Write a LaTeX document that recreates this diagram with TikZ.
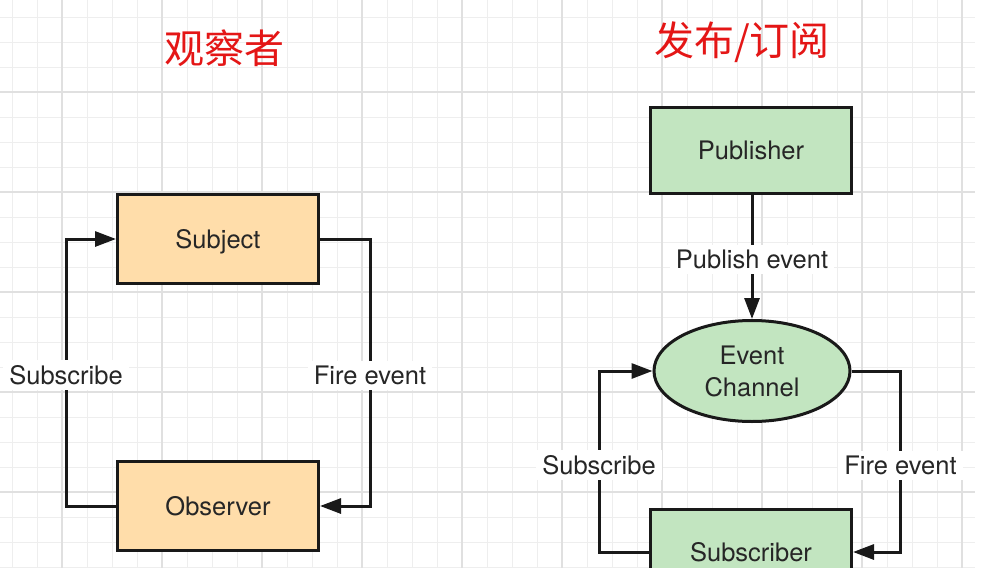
\documentclass[tikz,border=0pt]{standalone}
\usepackage{fontspec}
\setmainfont{TeX Gyre Heros}
\newfontfamily\cjk{Noto Sans CJK SC}
\usetikzlibrary{arrows.meta,shapes.geometric}
\definecolor{obsfill}{RGB}{255,221,170}
\definecolor{pubfill}{RGB}{194,229,192}
\definecolor{titlered}{RGB}{228,22,22}
\definecolor{gridminor}{RGB}{238,238,238}
\definecolor{gridmajor}{RGB}{224,224,224}
\tikzset{
  box/.style={draw=black!90, line width=3pt, rectangle, minimum width=201pt, minimum height=89pt,
    font=\fontsize{25.5}{30}\selectfont, text=black!85, inner sep=0pt, text height=18pt, text depth=0pt},
  obsbox/.style={box, fill=obsfill},
  pubbox/.style={box, fill=pubfill, minimum height=86pt},
  chan/.style={draw=black!90, line width=3pt, ellipse, fill=pubfill, minimum width=196pt, minimum height=101pt,
    font=\fontsize{25.5}{32}\selectfont, text=black!85, inner sep=0pt, align=center},
  conn/.style={draw=black!90, line width=3pt},
  arr/.style={conn, -{Triangle[length=21pt,width=15pt]}},
  lbl/.style={fill=white, font=\fontsize{25.5}{30}\selectfont, text=black!85, inner xsep=6pt, inner ysep=5pt},
  ttl/.style={font=\cjk\fontsize{40}{46}\selectfont, text=titlered, inner sep=0pt}
}
\begin{document}
\begin{tikzpicture}[x=1pt,y=-1pt]
\useasboundingbox (0,0) rectangle (986,568);
\fill[white] (0,0) rectangle (986,568);
% grid
\foreach \x in {12,37,...,975} \draw[gridminor,line width=1pt] (\x,0) -- (\x,568);
\foreach \y in {17,42,...,568} \draw[gridminor,line width=1pt] (0,\y) -- (975,\y);
\foreach \x in {62,162,...,975} \draw[gridmajor,line width=1.3pt] (\x,0) -- (\x,568);
\foreach \y in {92,192,...,568} \draw[gridmajor,line width=1.3pt] (0,\y) -- (975,\y);
% titles
\node[ttl] (t1) at (224,48) {观察者};
\node[ttl] (t2) at (742,42) {发布/订阅};
% observer pattern
\node[obsbox] (subject) at (218,239) {Subject};
\node[obsbox] (observer) at (218,506) {Observer};
\draw[arr] (observer.west) -- ++(-50,0) |- node[pos=0.245,lbl]{Subscribe} (subject.west);
\draw[arr] (subject.east) -- ++(50,0) |- node[pos=0.255,lbl]{Fire event} (observer.east);
% pub/sub
\node[pubbox] (publisher) at (751,150) {Publisher};
\node[chan] (channel) at (752,371) {Event\\Channel};
\node[pubbox] (subscriber) at (751,552) {Subscriber};
\draw[arr] (publisher.south -| channel.north) -- node[pos=0.52,lbl]{Publish event} (channel.north);
\draw[arr] (subscriber.west) -- ++(-50,0) |- node[pos=0.24,lbl]{Subscribe} (channel.west);
\draw[arr] (channel.east) -- ++(49,0) |- node[pos=0.26,lbl]{Fire event} (subscriber.east);
\end{tikzpicture}
\end{document}
